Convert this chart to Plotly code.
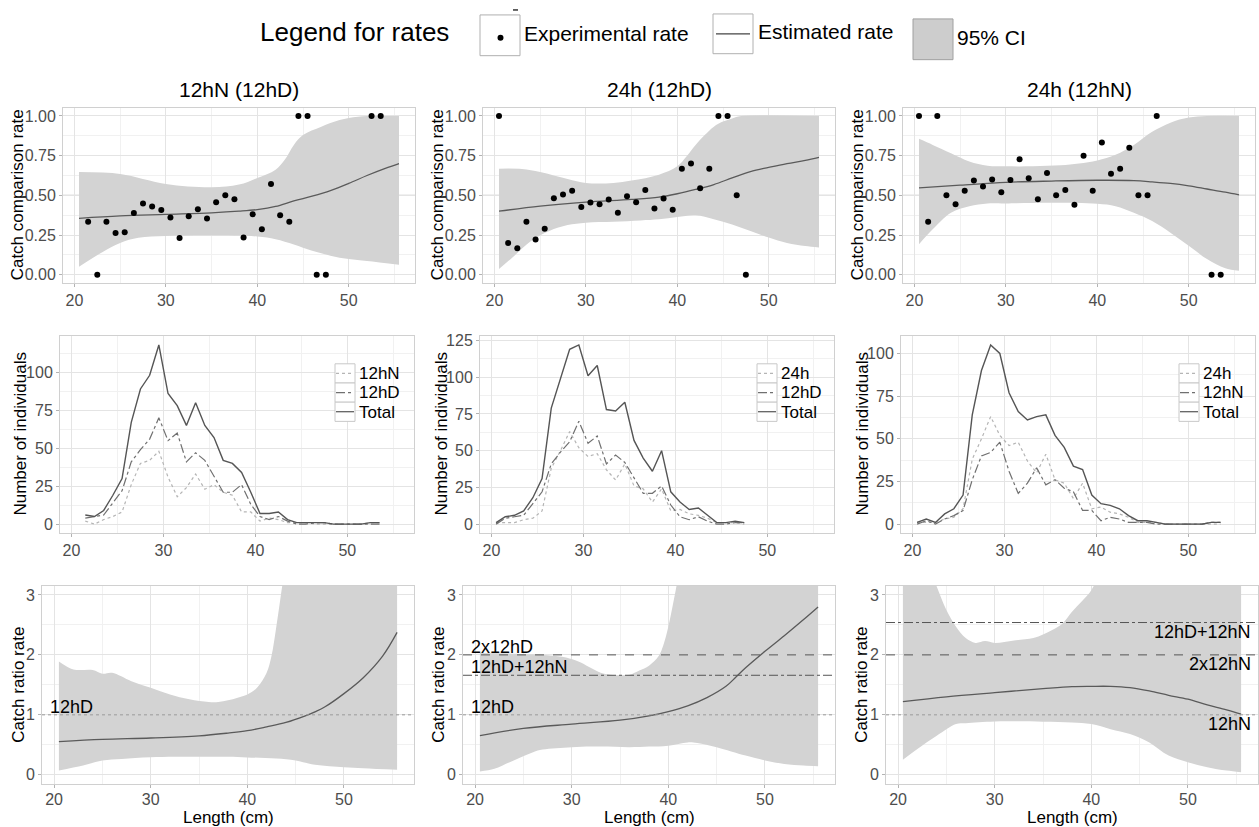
import plotly.graph_objects as go

W, H = 1259, 827

# ---------------- data ----------------
lengths = [20.5, 21.5, 22.5, 23.5, 24.5, 25.5, 26.5, 27.5, 28.5, 29.5, 30.5, 31.5,
           32.5, 33.5, 34.5, 35.5, 36.5, 37.5, 38.5, 39.5, 40.5, 41.5, 42.5, 43.5,
           44.5, 45.5, 46.5, 47.5, 48.5, 49.5, 50.5, 51.5, 52.5, 53.5]
catch_12hN = [0, 2, 0, 3, 5, 8, 26, 40, 42, 48, 31, 18, 24, 33, 23, 26, 21, 19,
              8, 8, 2, 4, 3, 1, 1, 1, 0, 0, 0, 0, 0, 0, 1, 1]
catch_12hD = [0, 4, 5, 6, 14, 22, 41, 49, 56, 70, 55, 60, 41, 47, 42, 31, 21, 21,
              26, 13, 5, 3, 5, 2, 0, 0, 1, 1, 0, 0, 0, 0, 0, 0]
catch_24h = [1, 1, 1, 3, 4, 9, 38, 50, 63, 52, 46, 48, 37, 30, 41, 26, 24, 15,
             24, 9, 10, 7, 6, 4, 1, 1, 1, 0, 0, 0, 0, 0, 0, 0]
total_p1 = [6, 5, 9, 19, 30, 67, 89, 98, 118, 86, 78, 65, 80, 65, 57, 42, 40, 34,
            21, 7, 7, 8, 3, 1, 1, 1, 1, 0, 0, 0, 0, 1, 1]
total_p2 = [1, 5, 6, 9, 18, 31, 79, 99, 119, 122, 101, 108, 78, 77, 83, 57, 45, 36,
            50, 22, 15, 10, 11, 6, 1, 1, 2, 1]
total_p3 = [1, 3, 1, 6, 9, 17, 64, 90, 105, 100, 77, 66, 61, 63, 64, 52, 45, 34,
            32, 17, 12, 11, 9, 5, 2, 2, 1, 0, 0, 0, 0, 0, 1, 1]

rate_len_1 = [21.5, 22.5, 23.5, 24.5, 25.5, 26.5, 27.5, 28.5, 29.5, 30.5, 31.5, 32.5,
              33.5, 34.5, 35.5, 36.5, 37.5, 38.5, 39.5, 40.5, 41.5, 42.5, 43.5, 44.5,
              45.5, 46.5, 47.5, 52.5, 53.5]
rate_1 = [0.333, 0.0, 0.333, 0.263, 0.267, 0.388, 0.449, 0.429, 0.407, 0.360, 0.231,
          0.369, 0.413, 0.354, 0.456, 0.500, 0.475, 0.235, 0.381, 0.286, 0.571, 0.375,
          0.333, 1.0, 1.0, 0.0, 0.0, 1.0, 1.0]
rate_len_2 = [20.5, 21.5, 22.5, 23.5, 24.5, 25.5, 26.5, 27.5, 28.5, 29.5, 30.5, 31.5,
              32.5, 33.5, 34.5, 35.5, 36.5, 37.5, 38.5, 39.5, 40.5, 41.5, 42.5, 43.5,
              44.5, 45.5, 46.5, 47.5]
rate_2 = [1.0, 0.2, 0.167, 0.333, 0.222, 0.29, 0.481, 0.505, 0.529, 0.426, 0.455,
          0.444, 0.474, 0.39, 0.494, 0.456, 0.533, 0.417, 0.48, 0.409, 0.667, 0.7,
          0.545, 0.667, 1.0, 1.0, 0.5, 0.0]
rate_len_3 = [20.5, 21.5, 22.5, 23.5, 24.5, 25.5, 26.5, 27.5, 28.5, 29.5, 30.5, 31.5,
              32.5, 33.5, 34.5, 35.5, 36.5, 37.5, 38.5, 39.5, 40.5, 41.5, 42.5, 43.5,
              44.5, 45.5, 46.5, 52.5, 53.5]
rate_3 = [1.0, 0.333, 1.0, 0.5, 0.444, 0.529, 0.594, 0.556, 0.6, 0.52, 0.597, 0.727,
          0.607, 0.476, 0.641, 0.5, 0.533, 0.441, 0.75, 0.529, 0.833, 0.636, 0.667,
          0.8, 0.5, 0.5, 1.0, 0.0, 0.0]

# estimated comparison rates (top row)
est_x_1 = [20.5, 25, 30, 35, 38, 40, 42, 44, 46, 48, 50, 52, 54, 55.5]
est_y_1 = [0.355, 0.37, 0.38, 0.39, 0.40, 0.41, 0.43, 0.465, 0.495, 0.53, 0.575, 0.625, 0.67, 0.70]
ci_up_x_1 = [20.5, 25, 30, 35, 38, 40, 42, 43, 44, 45, 47, 49, 51, 53, 55.5]
ci_up_1 = [0.647, 0.635, 0.572, 0.551, 0.568, 0.61, 0.662, 0.724, 0.818, 0.88, 0.933, 0.975, 0.996, 1.0, 1.0]
ci_lo_x_1 = [20.5, 23, 25, 27, 30, 35, 40, 42, 44, 46, 48, 50, 52, 55.5]
ci_lo_1 = [0.05, 0.14, 0.2, 0.232, 0.244, 0.248, 0.24, 0.223, 0.19, 0.15, 0.12, 0.098, 0.086, 0.063]

est_x_2 = [20.5, 25, 30, 35, 38, 40, 42, 44, 46, 48, 50, 52, 54, 55.5]
est_y_2 = [0.40, 0.432, 0.457, 0.474, 0.489, 0.51, 0.537, 0.568, 0.61, 0.65, 0.676, 0.70, 0.72, 0.739]
ci_up_x_2 = [20.5, 23, 25, 28, 30, 33, 35, 38, 40, 41, 42, 43, 44, 45, 46, 47, 55.5]
ci_up_2 = [0.668, 0.666, 0.647, 0.603, 0.578, 0.578, 0.593, 0.63, 0.683, 0.745, 0.818, 0.88, 0.933, 0.965, 0.985, 1.0, 1.0]
ci_lo_x_2 = [20.5, 22, 24, 26, 28, 30, 33, 36, 38, 40, 42, 44, 46, 48, 50, 52, 54, 55.5]
ci_lo_2 = [0.035, 0.11, 0.213, 0.276, 0.313, 0.328, 0.334, 0.342, 0.349, 0.363, 0.374, 0.349, 0.317, 0.276, 0.234, 0.2, 0.18, 0.171]

est_x_3 = [20.5, 25, 30, 35, 40, 44, 46, 48, 50, 52, 54, 55.5]
est_y_3 = [0.547, 0.564, 0.582, 0.59, 0.595, 0.593, 0.585, 0.575, 0.56, 0.54, 0.52, 0.503]
ci_up_x_3 = [20.5, 22, 24, 26, 28, 30, 33, 36, 38, 40, 42, 44, 46, 48, 50, 52, 55.5]
ci_up_3 = [0.856, 0.818, 0.766, 0.714, 0.687, 0.683, 0.683, 0.689, 0.70, 0.72, 0.756, 0.818, 0.9, 0.958, 0.99, 1.0, 1.0]
ci_lo_x_3 = [20.5, 22, 24, 26, 28, 30, 35, 40, 42, 44, 46, 48, 50, 52, 54, 55.5]
ci_lo_3 = [0.192, 0.286, 0.39, 0.432, 0.449, 0.449, 0.453, 0.447, 0.432, 0.39, 0.338, 0.265, 0.182, 0.098, 0.04, 0.025]

# catch ratio rates (bottom row)
ratio_x_1 = [20.5, 25, 30, 35, 38, 40, 42, 44, 46, 47, 48, 50, 52, 54, 55.5]
ratio_y_1 = [0.552, 0.59, 0.613, 0.65, 0.696, 0.735, 0.80, 0.873, 0.983, 1.05, 1.13, 1.354, 1.62, 1.98, 2.376]
rci_up_x_1 = [20.5, 22, 24, 25, 26, 28, 30, 32, 34, 36, 37, 38, 39, 40, 41, 42, 42.5, 43, 43.5, 44, 45, 47, 50, 55.5]
rci_up_1 = [1.89, 1.757, 1.746, 1.685, 1.70, 1.56, 1.45, 1.34, 1.26, 1.215, 1.215, 1.243, 1.287, 1.34, 1.45, 1.70, 1.98, 2.47, 3.03, 3.6, 6, 10, 15, 20]
rci_lo_x_1 = [20.5, 23, 25, 27, 30, 35, 38, 40, 43, 45, 47, 50, 52, 55.5]
rci_lo_1 = [0.072, 0.155, 0.238, 0.265, 0.293, 0.30, 0.30, 0.29, 0.27, 0.238, 0.166, 0.127, 0.11, 0.083]

ratio_x_2 = [20.5, 25, 30, 35, 38, 40, 42, 44, 46, 47, 48, 50, 52, 54, 55.5]
ratio_y_2 = [0.652, 0.773, 0.845, 0.91, 0.983, 1.055, 1.15, 1.287, 1.48, 1.63, 1.785, 2.06, 2.32, 2.59, 2.8]
rci_up_x_2 = [20.5, 24, 27, 29, 30, 31, 32, 33, 34, 35, 36, 37, 38, 39, 39.5, 40, 40.5, 41, 42, 45, 50, 55.5]
rci_up_2 = [2.03, 2.02, 2.0, 1.97, 1.93, 1.87, 1.78, 1.70, 1.67, 1.66, 1.67, 1.74, 1.82, 1.98, 2.17, 2.47, 2.86, 3.3, 4.5, 8, 15, 20]
rci_lo_x_2 = [20.5, 22, 24, 26, 27, 30, 33, 36, 38, 40, 42, 43, 45, 48, 50, 52, 54, 55.5]
rci_lo_2 = [0.055, 0.1, 0.24, 0.376, 0.42, 0.46, 0.47, 0.46, 0.47, 0.486, 0.54, 0.53, 0.46, 0.32, 0.24, 0.18, 0.155, 0.144]

ratio_x_3 = [20.5, 25, 30, 35, 38, 40, 42, 44, 46, 48, 50, 52, 54, 55.5]
ratio_y_3 = [1.22, 1.30, 1.37, 1.436, 1.47, 1.475, 1.475, 1.453, 1.398, 1.326, 1.26, 1.166, 1.083, 1.01]
rci_up_x_3 = [20.5, 22, 23, 24, 25, 26, 27, 28, 29, 30, 32, 34, 35, 36, 37, 38, 39, 40, 40.5, 41, 43, 46, 50, 55.5]
rci_up_3 = [6, 4.5, 3.6, 3.14, 2.75, 2.47, 2.28, 2.2, 2.23, 2.2, 2.24, 2.28, 2.34, 2.42, 2.52, 2.72, 2.89, 3.08, 3.25, 3.6, 5, 8, 15, 20]
rci_lo_x_3 = [20.5, 22, 24, 26, 27, 30, 35, 38, 40, 42, 44, 46, 48, 50, 52, 54, 55.5]
rci_lo_3 = [0.25, 0.43, 0.65, 0.845, 0.86, 0.89, 0.884, 0.873, 0.845, 0.76, 0.68, 0.54, 0.32, 0.21, 0.127, 0.07, 0.044]

# reference levels (bottom row) and their labels
ref_levels_1 = [1.0]
ref_labels_1 = ["12hD"]
ref_levels_2 = [1.0, 1.66, 2.0]
ref_labels_2 = ["12hD", "12hD+12hN", "2x12hD"]
ref_levels_3 = [1.0, 2.0, 2.54]
ref_labels_3 = ["12hN", "2x12hN", "12hD+12hN"]

titles = ["12hN (12hD)", "24h (12hD)", "24h (12hN)"]
legend_names = [["12hN", "12hD", "Total"], ["24h", "12hD", "Total"], ["24h", "12hN", "Total"]]

# ---------------- styling ----------------
FONT = "Liberation Sans, Arial, sans-serif"
BAND = "rgb(211,211,211)"
LINE = "#555555"
GRID = "#e4e4e4"
MINOR = "#f1f1f1"
BORDER = "#d0d0d0"
TICKC = "#4d4d4d"

# pixel layout of panels
col_x = {
    0: [(63, 415), (483, 835), (903, 1255)],
    1: [(60, 414), (480, 834), (901, 1255)],
    2: [(42, 414), (463, 835), (886, 1258)],
}
row_y = {0: (104.7, 280.3), 1: (334.0, 532.3), 2: (585.5, 784.5)}

fig = go.Figure()
layout = dict(width=W, height=H, margin=dict(l=0, r=0, t=0, b=0),
              paper_bgcolor="white", plot_bgcolor="white", showlegend=False,
              font=dict(family=FONT, color="black"))
shapes, annotations = [], []


def axname(i):
    return "" if i == 1 else str(i)


def add_band(i, xl, yl, xu, yu):
    fig.add_trace(go.Scatter(x=xl, y=yl, mode="lines", line=dict(width=0, shape="spline"),
                             xaxis="x" + axname(i), yaxis="y" + axname(i), hoverinfo="skip"))
    fig.add_trace(go.Scatter(x=xu, y=yu, mode="lines", line=dict(width=0, shape="spline"),
                             fill="tonexty", fillcolor=BAND,
                             xaxis="x" + axname(i), yaxis="y" + axname(i), hoverinfo="skip"))


def add_line(i, x, y, color=LINE, width=1.3, dash="solid", shape="spline"):
    fig.add_trace(go.Scatter(x=x, y=y, mode="lines",
                             line=dict(color=color, width=width, dash=dash, shape=shape),
                             xaxis="x" + axname(i), yaxis="y" + axname(i)))


mid_ranges = []
for c, tot in enumerate([total_p1, total_p2, total_p3]):
    m = max(tot)
    mid_ranges.append([-0.05 * m, 1.05 * m])

for r in range(3):
    for c in range(3):
        i = r * 3 + c + 1
        x0, x1 = col_x[r][c]
        top, bot = row_y[r]
        xa = dict(domain=[x0 / W, x1 / W], range=[18.75, 57.25], anchor="y" + axname(i),
                  tick0=0, dtick=10, showgrid=True, gridcolor=GRID, gridwidth=1,
                  minor=dict(dtick=5, tick0=0, showgrid=True, gridcolor=MINOR, gridwidth=1),
                  showline=True, mirror=True, linecolor=BORDER, linewidth=1,
                  ticks="outside", ticklen=3, tickcolor="#b3b3b3",
                  ticklabelstandoff=(-2 if r == 2 else 0),
                  tickfont=dict(size=16, color=TICKC, family=FONT), zeroline=False)
        ya = dict(domain=[1 - bot / H, 1 - top / H], anchor="x" + axname(i),
                  showgrid=True, gridcolor=GRID, gridwidth=1,
                  showline=True, mirror=True, linecolor=BORDER, linewidth=1,
                  ticks="outside", ticklen=3, tickcolor="#b3b3b3",
                  tickfont=dict(size=16, color=TICKC, family=FONT), zeroline=False)
        if r == 0:
            ya.update(range=[-0.05, 1.05], tick0=0, dtick=0.25, tickformat=".2f",
                      minor=dict(dtick=0.125, tick0=0, showgrid=True, gridcolor=MINOR))
        elif r == 1:
            ya.update(range=mid_ranges[c], tick0=0, dtick=25,
                      minor=dict(dtick=12.5, tick0=0, showgrid=True, gridcolor=MINOR))
        else:
            ya.update(range=[-0.15, 3.15], tick0=0, dtick=1,
                      minor=dict(dtick=0.5, tick0=0, showgrid=True, gridcolor=MINOR))
        layout["xaxis" + axname(i)] = xa
        layout["yaxis" + axname(i)] = ya

# ---------- top row: catch comparison rates ----------
top_sets = [
    (est_x_1, est_y_1, ci_up_x_1, ci_up_1, ci_lo_x_1, ci_lo_1, rate_len_1, rate_1),
    (est_x_2, est_y_2, ci_up_x_2, ci_up_2, ci_lo_x_2, ci_lo_2, rate_len_2, rate_2),
    (est_x_3, est_y_3, ci_up_x_3, ci_up_3, ci_lo_x_3, ci_lo_3, rate_len_3, rate_3),
]
for c, (ex, ey, ux, uy, lx, ly, px_, py_) in enumerate(top_sets):
    i = c + 1
    add_band(i, lx, ly, ux, uy)
    shapes.append(dict(type="line", xref="x" + axname(i) + " domain", x0=0, x1=1,
                       yref="y" + axname(i), y0=0.5, y1=0.5,
                       line=dict(color="#a8a8a8", width=1), layer="below"))
    add_line(i, ex, ey, color="#5a5a5a", width=1.3)
    fig.add_trace(go.Scatter(x=px_, y=py_, mode="markers",
                             marker=dict(color="black", size=6),
                             xaxis="x" + axname(i), yaxis="y" + axname(i), cliponaxis=False))
    x0, x1 = col_x[0][c]
    annotations.append(dict(text=titles[c], xref="paper", yref="paper",
                            x=(x0 + x1) / 2 / W, y=1 - 86 / H, xanchor="center", yanchor="middle",
                            showarrow=False, font=dict(size=21, color="black", family=FONT)))

# ---------- middle row: length distributions ----------
mid_sets = [
    (lengths[1:], catch_12hN[1:], catch_12hD[1:], total_p1),
    (lengths[:28], catch_24h[:28], catch_12hD[:28], total_p2),
    (lengths, catch_24h, catch_12hN, total_p3),
]
for c, (lx, a, b, t) in enumerate(mid_sets):
    i = 3 + c + 1
    add_line(i, lx, a, color="#b5b5b5", width=1.2, dash="dot", shape="linear")
    add_line(i, lx, b, color="#707070", width=1.2, dash="dashdot", shape="linear")
    add_line(i, lx, t, color="#555555", width=1.4, dash="solid", shape="linear")

# middle legends
leg_x = [335, 757, 1179]
leg_styles = [("#b5b5b5", "dot"), ("#707070", "dashdot"), ("#555555", "solid")]
for c in range(3):
    for k in range(3):
        y0 = 362 + k * 19.3
        y1 = y0 + 19.3
        shapes.append(dict(type="rect", xref="paper", yref="paper",
                           x0=leg_x[c] / W, x1=(leg_x[c] + 20) / W,
                           y0=1 - y1 / H, y1=1 - y0 / H,
                           line=dict(color="#c8c8c8", width=1), fillcolor="white"))
        col, dsh = leg_styles[k]
        shapes.append(dict(type="line", xref="paper", yref="paper",
                           x0=(leg_x[c] + 1) / W, x1=(leg_x[c] + 19) / W,
                           y0=1 - (y0 + 9.6) / H, y1=1 - (y0 + 9.6) / H,
                           line=dict(color=col, width=1.2, dash=dsh)))
        annotations.append(dict(text=legend_names[c][k], xref="paper", yref="paper",
                                x=(leg_x[c] + 22) / W, y=1 - (y0 + 10) / H,
                                xanchor="left", yanchor="middle", showarrow=False,
                                font=dict(size=17, color="black", family=FONT)))

# ---------- bottom row: catch ratio rates ----------
bot_sets = [
    (ratio_x_1, ratio_y_1, rci_up_x_1, rci_up_1, rci_lo_x_1, rci_lo_1),
    (ratio_x_2, ratio_y_2, rci_up_x_2, rci_up_2, rci_lo_x_2, rci_lo_2),
    (ratio_x_3, ratio_y_3, rci_up_x_3, rci_up_3, rci_lo_x_3, rci_lo_3),
]
for c, (ex, ey, ux, uy, lx, ly) in enumerate(bot_sets):
    i = 6 + c + 1
    add_band(i, lx, ly, ux, uy)
    add_line(i, ex, ey, color="#5a5a5a", width=1.3)

ref_dash = {1.0: ("#9a9a9a", "dot"), 2.0: ("#555555", "dash")}
ref_sets = [(ref_levels_1, ref_labels_1), (ref_levels_2, ref_labels_2), (ref_levels_3, ref_labels_3)]
for c, (levels, labels) in enumerate(ref_sets):
    i = 6 + c + 1
    for lv, lab in zip(levels, labels):
        colr, dsh = ref_dash.get(lv, ("#555555", "dashdot"))
        shapes.append(dict(type="line", xref="x" + axname(i) + " domain", x0=0, x1=1,
                           yref="y" + axname(i), y0=lv, y1=lv,
                           line=dict(color=colr, width=1, dash=dsh)))
        if c < 2:
            annotations.append(dict(text=lab, xref="x" + axname(i), yref="y" + axname(i),
                                    x=19.4, y=lv + 0.13, xanchor="left", yanchor="middle",
                                    showarrow=False, font=dict(size=18, color="black", family=FONT)))
        else:
            annotations.append(dict(text=lab, xref="x" + axname(i), yref="y" + axname(i),
                                    x=56.7, y=lv - 0.16, xanchor="right", yanchor="middle",
                                    showarrow=False, font=dict(size=18, color="black", family=FONT)))

# axis titles
ytitles = ["Catch comparison rate", "Number of individuals", "Catch ratio rate"]
ytitle_x = [[17, 437, 857], [21, 442, 863], [19, 439, 862]]
for r in range(3):
    top, bot = row_y[r]
    for c in range(3):
        annotations.append(dict(text=ytitles[r], xref="paper", yref="paper",
                                x=ytitle_x[r][c] / W, y=1 - (top + bot) / 2 / H,
                                xanchor="center", yanchor="middle", textangle=-90,
                                showarrow=False, font=dict(size=17, color="black", family=FONT)))
for c in range(3):
    x0, x1 = col_x[2][c]
    annotations.append(dict(text="Length (cm)", xref="paper", yref="paper",
                            x=(x0 + x1) / 2 / W, y=1 - 818.5 / H, xanchor="center", yanchor="middle",
                            showarrow=False, font=dict(size=17, color="black", family=FONT)))

# ---------- global legend at top ----------
def px(x):
    return x / W


def py(y):
    return 1 - y / H


annotations.append(dict(text="Legend for rates", xref="paper", yref="paper", x=px(258), y=py(28),
                        xanchor="left", yanchor="middle", showarrow=False,
                        font=dict(size=26, color="black", family=FONT)))
shapes.append(dict(type="rect", xref="paper", yref="paper", x0=px(480), x1=px(520), y0=py(52), y1=py(11),
                   line=dict(color="#b0b0b0", width=1), fillcolor="white"))
shapes.append(dict(type="line", xref="paper", yref="paper", x0=px(513), x1=px(518), y0=py(6), y1=py(6),
                   line=dict(color="black", width=1.2)))
shapes.append(dict(type="circle", xref="paper", yref="paper", x0=px(497.5), x1=px(503.5), y0=py(37), y1=py(31),
                   line=dict(color="black", width=0), fillcolor="black"))
annotations.append(dict(text="Experimental rate", xref="paper", yref="paper", x=px(522), y=py(30),
                        xanchor="left", yanchor="middle", showarrow=False,
                        font=dict(size=21, color="black", family=FONT)))
shapes.append(dict(type="rect", xref="paper", yref="paper", x0=px(713), x1=px(753), y0=py(50), y1=py(10),
                   line=dict(color="#b0b0b0", width=1), fillcolor="white"))
shapes.append(dict(type="line", xref="paper", yref="paper", x0=px(716), x1=px(750), y0=py(30), y1=py(30),
                   line=dict(color="#444444", width=1.3)))
annotations.append(dict(text="Estimated rate", xref="paper", yref="paper", x=px(756), y=py(28),
                        xanchor="left", yanchor="middle", showarrow=False,
                        font=dict(size=21, color="black", family=FONT)))
shapes.append(dict(type="rect", xref="paper", yref="paper", x0=px(913), x1=px(953), y0=py(56), y1=py(15),
                   line=dict(color="#a0a0a0", width=1), fillcolor="#cdcdcd"))
annotations.append(dict(text="95% CI", xref="paper", yref="paper", x=px(955), y=py(34),
                        xanchor="left", yanchor="middle", showarrow=False,
                        font=dict(size=21, color="black", family=FONT)))

layout["shapes"] = shapes
layout["annotations"] = annotations
fig.update_layout(**layout)
fig.write_html("out.html")
